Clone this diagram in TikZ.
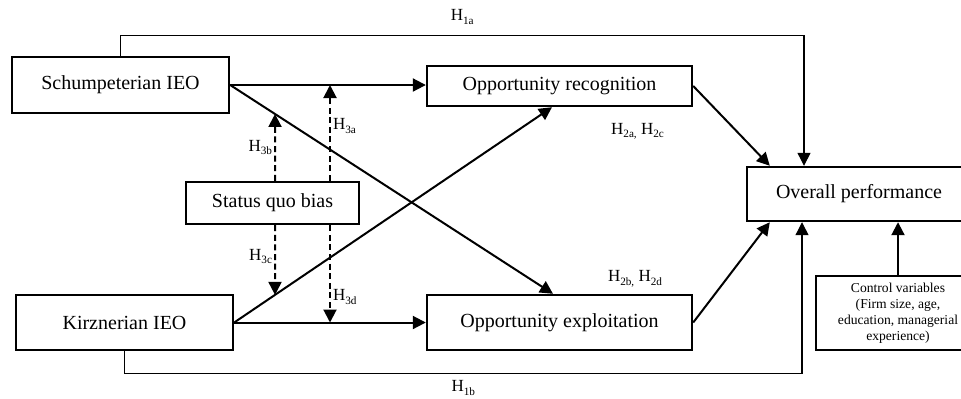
\documentclass[tikz,border=0pt]{standalone}
\usepackage{fontspec}
\setmainfont{Liberation Serif}
\usetikzlibrary{positioning,arrows.meta,calc}
\newcommand{\hsub}[1]{\raisebox{-0.45ex}{\fontsize{5.6}{6}\selectfont #1}}

\begin{document}
\begin{tikzpicture}[
  x=0.5pt,y=-0.5pt,
  font=\fontsize{10}{12}\selectfont,
  box/.style={draw,line width=1.2pt,align=center,inner sep=0pt},
  link/.style={line width=1pt,-{Triangle[length=6.5pt,width=6.5pt]}},
  mod/.style={link,dash pattern=on 3pt off 1.8pt},
  direct/.style={line width=0.6pt,-{Triangle[length=6.5pt,width=6.5pt]}},
  hlab/.style={font=\fontsize{8.5}{10}\selectfont,inner sep=1pt},
]
  \useasboundingbox (0,0) rectangle (961,398);
  \node[box,minimum width=108.5pt,minimum height=28pt] (schump) at (120.5,85) {Schumpeterian IEO};
  \node[box,minimum width=108.5pt,minimum height=27.5pt] (kirz) at (124.5,322.5) {Kirznerian IEO};
  \node[box,minimum width=86.5pt,minimum height=21pt] (status) at (272.5,203) {Status quo bias};
  \node[box,minimum width=132.5pt,minimum height=20pt] (opprec) at (559.5,86) {Opportunity recognition};
  \node[box,minimum width=132.5pt,minimum height=27.5pt] (oppexp) at (559.5,322.5) {Opportunity exploitation};
  \node[box,minimum width=112pt,minimum height=27pt] (overall) at (859,194) {Overall performance};
  \node[box,minimum width=82pt,minimum height=37pt,font=\fontsize{6.8}{8}\selectfont] (control) at (898,313)
    {Control variables\\(Firm size, age,\\education, managerial\\experience)};

  \coordinate (sE) at (schump.east);
  \coordinate (kE) at (kirz.east);
  \coordinate (expIn) at ([xshift=-3.25pt]oppexp.north);
  \coordinate (recIn) at ([xshift=-3.75pt]opprec.south);
  \coordinate (s1t) at ([xshift=1.25pt]status.north);
  \coordinate (s2t) at ([xshift=28.75pt]status.north);
  \coordinate (s1b) at ([xshift=1.25pt]status.south);
  \coordinate (s2b) at ([xshift=28.75pt]status.south);

  \draw[direct] (schump.north) -- ++(0,-20) -| node[hlab,above=4.5pt,pos=0.25]{H\hsub{1a}} ([xshift=-27.5pt]overall.north);
  \draw[direct] (kirz.south) -- ++(0,22) -| node[hlab,below=2.5pt,pos=0.25]{H\hsub{1b}} ([xshift=-28.5pt]overall.south);

  \draw[link] (sE) -- (sE -| opprec.west);
  \draw[link] (kE) -- (kE -| oppexp.west);
  \draw[link] (sE) -- (expIn);
  \draw[link] (kE) -- (recIn);

  \draw[mod] (s1t) -- node[hlab,left,pos=0.5]{H\hsub{3b}} (intersection of s1t--s1b and sE--expIn);
  \draw[mod] (s2t) -- node[hlab,right,pos=0.57]{H\hsub{3a}} (s2t |- sE);
  \draw[mod] (s1b) -- node[hlab,left,pos=0.45]{H\hsub{3c}} (intersection of s1t--s1b and kE--recIn);
  \draw[mod] (s2b) -- node[hlab,right,pos=0.74]{H\hsub{3d}} (s2b |- kE);

  \node[hlab] (h2ac) at ([xshift=39pt,yshift=-12pt]opprec.south) {H\hsub{2a,} H\hsub{2c}};
  \node[hlab] (h2bd) at ([xshift=37.75pt,yshift=7.5pt]oppexp.north) {H\hsub{2b,} H\hsub{2d}};

  \draw[link] (opprec.east) -- ([xshift=12pt]overall.north west);
  \draw[link] (oppexp.east) -- ([xshift=12pt]overall.south west);
  \draw[link] (control.north) -- (control.north |- overall.south);
\end{tikzpicture}
\end{document}
